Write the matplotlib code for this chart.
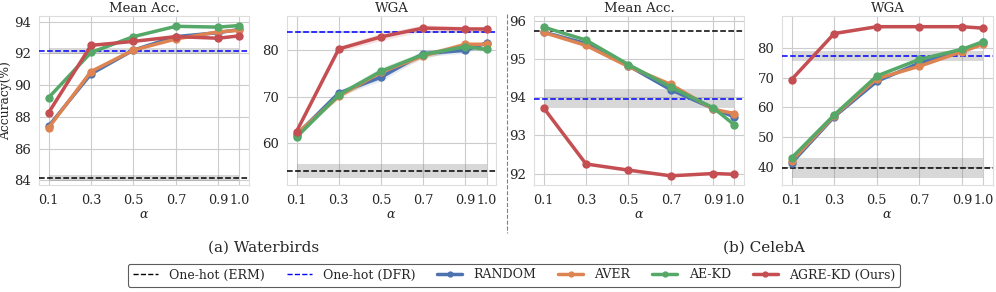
import matplotlib
matplotlib.use("Agg")
import matplotlib.pyplot as plt
import seaborn as sns
import numpy as np
from matplotlib.lines import Line2D

sns.set_style("whitegrid")
plt.rcParams['font.family'] = ['DejaVu Serif']
plt.rcParams['mathtext.fontset'] = 'dejavuserif'

alphas = [0.1, 0.3, 0.5, 0.7, 0.9, 1.0]
xtick_labels = ["0.1", "0.3", "0.5", "0.7", "0.9", "1.0"]
methods = ["RANDOM", "AVER", "AE-KD", "AGRE-KD (Ours)"]
colors = ["#4C72B0", "#DD8452", "#55A868", "#C44E52"]

# Waterbirds - Mean Acc.
wb_mean = {
    "RANDOM": [87.4, 90.7, 92.2, 93.05, 93.3, 93.5],
    "AVER": [87.3, 90.85, 92.2, 92.9, 93.35, 93.45],
    "AE-KD": [89.2, 92.05, 93.05, 93.7, 93.65, 93.75],
    "AGRE-KD (Ours)": [88.25, 92.5, 92.75, 93.05, 92.95, 93.1],
}
wb_mean_std = [0.05, 0.05, 0.05, 0.05, 0.05, 0.05]
# Waterbirds - WGA
wb_wga = {
    "RANDOM": [61.8, 70.8, 74.2, 79.3, 80.0, 81.6],
    "AVER": [62.0, 70.1, 75.3, 78.8, 81.3, 81.3],
    "AE-KD": [61.3, 70.4, 75.5, 79.1, 80.8, 80.2],
    "AGRE-KD (Ours)": [62.5, 80.3, 82.9, 84.8, 84.6, 84.6],
}
wb_wga_std = [0.3, 0.6, 0.8, 0.7, 0.6, 0.5]
# CelebA - Mean Acc.
ca_mean = {
    "RANDOM": [95.7, 95.4, 94.82, 94.19, 93.7, 93.48],
    "AVER": [95.69, 95.35, 94.8, 94.33, 93.68, 93.57],
    "AE-KD": [95.83, 95.49, 94.85, 94.26, 93.72, 93.27],
    "AGRE-KD (Ours)": [93.72, 92.25, 92.09, 91.94, 92.0, 91.98],
}
ca_mean_std = [0.02, 0.03, 0.05, 0.03, 0.02, 0.02]
# CelebA - WGA
ca_wga = {
    "RANDOM": [41.3, 56.9, 68.8, 75.0, 79.1, 81.9],
    "AVER": [42.0, 57.2, 69.7, 73.9, 78.8, 81.3],
    "AE-KD": [43.0, 57.5, 70.6, 76.2, 79.6, 82.2],
    "AGRE-KD (Ours)": [69.4, 84.9, 87.2, 87.2, 87.2, 86.7],
}
ca_wga_std = [0.3, 0.4, 0.4, 0.4, 0.3, 0.3]

# baselines: (ERM mean, ERM std, DFR mean, DFR std)
baselines = [
    (84.15, 0.2, 92.15, 0.2),
    (53.95, 1.5, 84.0, 0.2),
    (95.73, 0.0, 93.96, 0.25),
    (39.7, 3.3, 77.2, 1.7),
]
panels = [wb_mean, wb_wga, ca_mean, ca_wga]
stds = [wb_mean_std, wb_wga_std, ca_mean_std, ca_wga_std]
titles = ["Mean Acc.", "WGA", "Mean Acc.", "WGA"]
ylims = [(83.7, 94.35), (51.0, 87.4), (91.7, 96.12), (33.9, 90.8)]
yticks = [[84, 86, 88, 90, 92, 94], [60, 70, 80], [92, 93, 94, 95, 96], [40, 50, 60, 70, 80]]

fig = plt.figure(figsize=(9.96, 2.92), dpi=100)
W, H = 996, 292
boxes = [(39, 249), (287, 496), (534, 744), (782, 993)]
top, bottom = 16, 185
axes = []
for (l, r) in boxes:
    ax = fig.add_axes([l / W, 1 - bottom / H, (r - l) / W, (bottom - top) / H])
    axes.append(ax)

for i, ax in enumerate(axes):
    erm, erm_s, dfr, dfr_s = baselines[i]
    ax.axhline(erm, color="black", ls="--", lw=1.1, zorder=3)
    ax.fill_between([alphas[0], alphas[-1]], erm - erm_s, erm + erm_s, color="gray", alpha=0.3, lw=0, zorder=1)
    ax.axhline(dfr, color="blue", ls="--", lw=1.1, zorder=3)
    ax.fill_between([alphas[0], alphas[-1]], dfr - dfr_s, dfr + dfr_s, color="gray", alpha=0.3, lw=0, zorder=1)
    for m, c in zip(methods, colors):
        v = np.array(panels[i][m])
        s = np.array(stds[i])
        ax.fill_between(alphas, v - s, v + s, color=c, alpha=0.15, lw=0, zorder=2)
        ax.plot(alphas, v, color=c, lw=2.5, marker="o", ms=5, zorder=4)
    ax.set_title(titles[i], fontsize=9.5, pad=3)
    ax.set_xticks(alphas)
    ax.set_xticklabels(xtick_labels, fontsize=9.2)
    ax.set_yticks(yticks[i])
    ax.tick_params(axis="y", labelsize=9.5, pad=2)
    ax.tick_params(axis="x", pad=3)
    ax.set_ylim(*ylims[i])
    ax.set_xlim(0.055, 1.045)
    ax.set_xlabel(r"$\alpha$", fontsize=9, labelpad=1)
    for sp in ax.spines.values():
        sp.set_color("#dddddd")

axes[0].set_ylabel("Accuracy(%)", fontsize=8.8, labelpad=2)

# separator
fig.add_artist(Line2D([507 / W, 507 / W], [1 - 14 / H, 1 - 233 / H], color="gray", ls="--", lw=0.8))

fig.text(264 / W, 1 - 248 / H, "(a) Waterbirds", ha="center", va="center", fontsize=11)
fig.text(764 / W, 1 - 248 / H, "(b) CelebA", ha="center", va="center", fontsize=11)

handles = [
    Line2D([], [], color="black", ls="--", lw=1.0),
    Line2D([], [], color="blue", ls="--", lw=1.0),
] + [Line2D([], [], color=c, lw=2.5, marker="o", ms=3.5) for c in colors]
labels = ["One-hot (ERM)", "One-hot (DFR)"] + methods
leg = fig.legend(handles, labels, loc="center", bbox_to_anchor=(514 / W, 1 - 275 / H), ncol=6,
                 fontsize=9, frameon=True, handlelength=2.0, columnspacing=1.75,
                 borderpad=0.4, handletextpad=0.9)
leg.get_frame().set_edgecolor("#333333")
leg.get_frame().set_linewidth(0.8)

fig.savefig("out.png", dpi=100)
